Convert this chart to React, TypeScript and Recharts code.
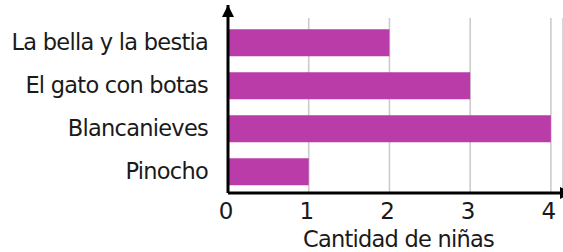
import React from 'react';
import { BarChart, Bar, XAxis, YAxis, CartesianGrid } from 'recharts';

const categories = ['La bella y la bestia', 'El gato con botas', 'Blancanieves', 'Pinocho'];
const values = [2, 3, 4, 1];
const xTicks = [0, 1, 2, 3, 4];
const xLabel = 'Cantidad de niñas';

const data = categories.map((name, i) => ({ name, value: values[i] }));

const FONT = '"DejaVu Sans", Verdana, sans-serif';
const TEXT = '#1a1a1a';

const gridLine = (props: any) => {
  const { x1, x2, y1, y2 } = props;
  return (
    <line
      key={props.key ?? `${x1}`}
      x1={x1}
      x2={x2}
      y1={y1 + 13}
      y2={y2}
      stroke="#cccccc"
      strokeWidth={1.6}
    />
  );
};

export default function App() {
  return (
    <div style={{ position: 'absolute', left: 0, top: 0, background: '#fff' }}>
      <BarChart
        width={563}
        height={252}
        data={data}
        layout="vertical"
        margin={{ top: 5, right: 0, bottom: 29, left: 0 }}
        barCategoryGap="19%"
      >
        <defs>
          <marker
            id="arrY"
            viewBox="0 0 12 12"
            markerWidth={12}
            markerHeight={12}
            refX={12}
            refY={6}
            orient="auto-start-reverse"
            markerUnits="userSpaceOnUse"
          >
            <path d="M0,0 L12,6 L0,12 z" fill="#000" />
          </marker>
          <marker
            id="arrX"
            viewBox="0 0 12 12"
            markerWidth={12}
            markerHeight={12}
            refX={3}
            refY={6}
            orient="auto"
            markerUnits="userSpaceOnUse"
          >
            <path d="M0,0 L12,6 L0,12 z" fill="#000" />
          </marker>
        </defs>
        <CartesianGrid horizontal={false} vertical={gridLine} />
        <XAxis
          type="number"
          domain={[0, 4.15]}
          ticks={xTicks}
          tickSize={0}
          tickMargin={10}
          tickLine={false}
          axisLine={{ stroke: '#000', strokeWidth: 3, markerEnd: 'url(#arrX)' }}
          tick={{ fontFamily: FONT, fontSize: 23, fill: TEXT, dx: -2 }}
          label={{
            value: xLabel,
            position: 'bottom',
            offset: 8,
            dx: 3,
            style: { fontFamily: FONT, fontSize: 22.5, letterSpacing: -0.75, fill: TEXT },
          }}
        />
        <YAxis
          type="category"
          dataKey="name"
          width={228}
          padding={{ top: 16, bottom: 0 }}
          interval={0}
          tickSize={0}
          tickMargin={20}
          tickLine={false}
          axisLine={{ stroke: '#000', strokeWidth: 3, markerStart: 'url(#arrY)' }}
          tick={{ fontFamily: FONT, fontSize: 22.5, letterSpacing: -0.75, fill: TEXT }}
        />
        <Bar dataKey="value" fill="#B93CA8" isAnimationActive={false} />
      </BarChart>
    </div>
  );
}
